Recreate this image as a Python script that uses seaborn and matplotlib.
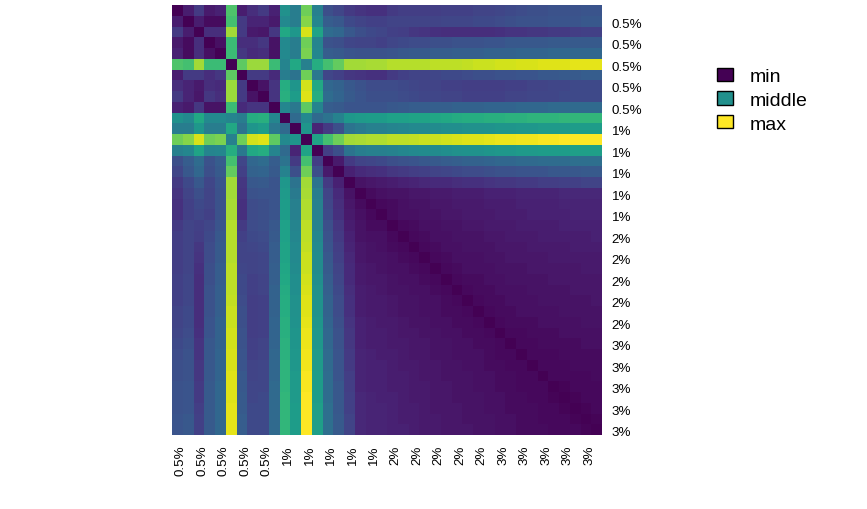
import numpy as np
import matplotlib
matplotlib.use("Agg")
import matplotlib.pyplot as plt
from matplotlib.patches import Patch
import seaborn as sns

# tick labels, one on every second cell
tick_labels = ["0.5%"] * 5 + ["1%"] * 5 + ["2%"] * 5 + ["3%"] * 5

# legend
legend_names = ["min", "middle", "max"]
legend_colors = ["#440154", "#21908C", "#FDE725"]

# upper triangle of the matrix, read off by colour (0 = min, 1 = max)
# each row starts on the diagonal
upper_rows = [
    [0, .08, .17, .07, .09, .72, .08, .13, .17, .09, .50, .42, .78, .43,
     .24, .21, .17, .15, .14, .14, .17, .18, .18, .18, .18, .19, .19, .19, .20, .20, .21, .22, .23, .24, .24, .25, .25, .25, .26, .26],
    [0, .08, .03, .03, .70, .17, .10, .10, .07, .47, .42, .82, .46,
     .29, .27, .22, .20, .19, .19, .20, .20, .20, .20, .20, .21, .21, .21, .22, .22, .23, .24, .25, .25, .25, .26, .26, .26, .27, .27],
    [0, .13, .13, .86, .17, .07, .06, .16, .60, .53, .94, .58,
     .35, .33, .27, .24, .22, .21, .19, .18, .16, .15, .14, .13, .13, .13, .13, .13, .14, .15, .15, .16, .16, .17, .17, .18, .19, .19],
    [0, .04, .68, .13, .13, .16, .05, .47, .42, .78, .45,
     .25, .24, .21, .20, .20, .19, .21, .22, .23, .23, .24, .24, .25, .25, .25, .26, .26, .27, .27, .27, .27, .28, .28, .28, .28, .28],
    [0, .68, .16, .12, .13, .05, .47, .42, .80, .46,
     .29, .28, .26, .25, .25, .25, .26, .27, .28, .28, .29, .29, .30, .30, .30, .31, .31, .31, .32, .32, .32, .33, .33, .33, .33, .33],
    [0, .75, .85, .85, .68, .45, .60, .43, .62,
     .70, .76, .86, .86, .87, .87, .89, .89, .89, .89, .90, .90, .90, .91, .92, .92, .93, .93, .94, .94, .95, .95, .95, .96, .96, .96],
    [0, .17, .17, .12, .42, .38, .78, .40,
     .21, .19, .16, .15, .14, .14, .17, .19, .20, .20, .21, .22, .22, .23, .24, .24, .25, .25, .26, .26, .27, .27, .28, .28, .29, .29],
    [0, .05, .15, .62, .52, .93, .60,
     .33, .31, .27, .25, .23, .23, .23, .22, .21, .20, .20, .19, .19, .18, .18, .18, .18, .19, .19, .20, .20, .21, .21, .22, .22, .22],
    [0, .15, .63, .55, .95, .62,
     .35, .32, .28, .26, .24, .24, .24, .23, .22, .21, .21, .20, .20, .19, .19, .19, .19, .20, .20, .21, .21, .21, .22, .22, .22, .22],
    [0, .46, .40, .75, .45,
     .29, .28, .26, .26, .26, .26, .27, .28, .29, .29, .30, .30, .31, .31, .31, .32, .32, .32, .33, .33, .33, .34, .34, .34, .34, .34],
    [0, .34, .47, .34,
     .38, .44, .53, .54, .55, .55, .57, .57, .58, .58, .59, .60, .61, .62, .62, .63, .63, .64, .64, .65, .65, .65, .66, .66, .66, .66],
    [0, .52, .10,
     .17, .24, .38, .41, .43, .43, .45, .46, .47, .47, .48, .49, .49, .50, .50, .51, .52, .52, .53, .53, .54, .54, .54, .55, .55, .55],
    [0, .58,
     .70, .78, .86, .87, .88, .88, .90, .90, .91, .92, .92, .93, .94, .95, .95, .96, .97, .97, .98, .98, .99, .99, 1, 1, 1, 1],
    [0,
     .18, .24, .38, .42, .43, .43, .44, .46, .47, .48, .48, .49, .50, .51, .51, .52, .53, .53, .54, .54, .55, .55, .55, .56, .56, .56],
    [0, .07, .17, .20, .21, .22, .24, .25, .26, .27, .28, .29, .30, .31, .31, .32, .33, .33, .34, .34, .35, .35, .35, .36, .36, .36],
    [0, .09, .12, .13, .14, .16, .17, .18, .19, .20, .21, .22, .23, .23, .24, .25, .25, .26, .26, .26, .27, .27, .27, .28, .28],
    [0, .05, .06, .07, .08, .09, .10, .11, .12, .12, .13, .14, .14, .15, .16, .16, .17, .17, .18, .18, .19, .19, .20, .20],
    [0, .03, .04, .05, .05, .06, .06, .07, .07, .08, .08, .08, .09, .09, .09, .10, .10, .10, .10, .11, .11, .11, .11],
    [0, .02, .03, .04, .05, .05, .06, .06, .07, .07, .07, .08, .08, .08, .09, .09, .09, .09, .10, .10, .10, .10],
    [0, .03, .04, .04, .05, .05, .06, .06, .07, .07, .07, .08, .08, .08, .09, .09, .09, .09, .10, .10, .10],
    [0, .02, .03, .04, .04, .05, .05, .06, .06, .07, .07, .07, .08, .08, .08, .08, .09, .09, .09, .09],
    [0, .02, .03, .04, .04, .05, .05, .05, .06, .06, .07, .07, .07, .08, .08, .08, .08, .08, .09],
    [0, .02, .03, .04, .04, .05, .05, .05, .06, .06, .06, .07, .07, .07, .07, .08, .08, .08],
    [0, .02, .03, .04, .04, .04, .05, .05, .06, .06, .06, .06, .07, .07, .07, .07, .07],
    [0, .02, .03, .04, .04, .04, .05, .05, .05, .06, .06, .06, .06, .06, .07, .07],
    [0, .02, .03, .03, .04, .04, .05, .05, .05, .05, .06, .06, .06, .06, .06],
    [0, .02, .03, .03, .04, .04, .04, .05, .05, .05, .05, .06, .06, .06],
    [0, .02, .03, .03, .04, .04, .04, .05, .05, .05, .05, .05, .06],
    [0, .02, .03, .03, .04, .04, .04, .04, .05, .05, .05, .05],
    [0, .02, .03, .03, .03, .04, .04, .04, .04, .05, .05],
    [0, .02, .02, .03, .03, .03, .04, .04, .04, .04],
    [0, .02, .02, .03, .03, .03, .03, .04, .04],
    [0, .02, .02, .02, .03, .03, .03, .03],
    [0, .02, .02, .02, .03, .03, .03],
    [0, .02, .02, .02, .02, .03],
    [0, .01, .02, .02, .02],
    [0, .01, .02, .02],
    [0, .01, .02],
    [0, .01],
    [0],
]

n = len(upper_rows)
matrix = np.zeros((n, n))
for i, row in enumerate(upper_rows):
    matrix[i, i:] = row
    matrix[i:, i] = row

W, H = 867, 510
fig = plt.figure(figsize=(W / 100, H / 100), dpi=100)
ax = fig.add_axes([172 / W, 1 - 436 / H, 430 / W, 430 / H])

sns.heatmap(matrix, ax=ax, cmap="viridis", vmin=0, vmax=1, cbar=False,
            square=False, linewidths=0)

# labels sit on every second cell, as in the original
ax.set_xticks(np.arange(0, n, 2) + 0.8)
ax.set_xticklabels(tick_labels, rotation=90, fontsize=9.6, family="Liberation Sans", color="black")
ax.set_yticks(np.arange(1, n, 2) + 0.62)
ax.set_yticklabels(tick_labels, rotation=0, fontsize=9.6, family="Liberation Sans", color="black")
ax.yaxis.tick_right()
ax.tick_params(axis="both", length=0)
ax.tick_params(axis="x", pad=7)
ax.tick_params(axis="y", pad=7)

handles = [Patch(facecolor=c, edgecolor="black", linewidth=1) for c in legend_colors]
fig.legend(handles, legend_names, loc="upper left", bbox_to_anchor=(717 / W, 1 - 68.5 / H),
           frameon=False, prop={"family": "Liberation Sans", "size": 14},
           handlelength=0.82, handleheight=0.67, handletextpad=0.87, labelspacing=0.33,
           borderpad=0, borderaxespad=0)

fig.savefig("out.png", dpi=100)
